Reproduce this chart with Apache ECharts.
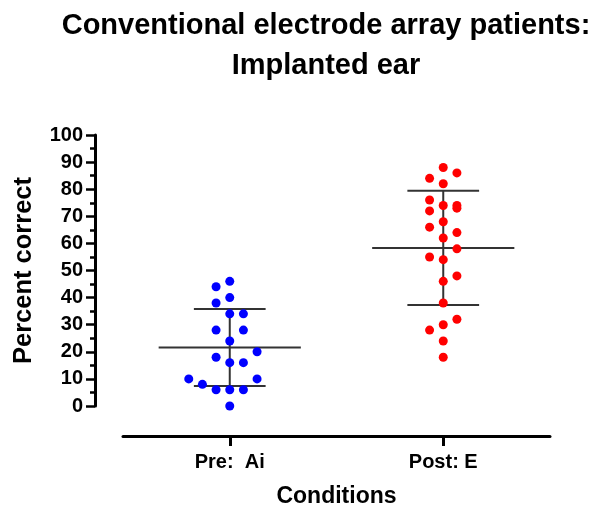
<!DOCTYPE html>
<html>
<head>
<meta charset="utf-8">
<script src="https://cdn.jsdelivr.net/npm/echarts@6/dist/echarts.min.js"></script>
<style>html,body{margin:0;padding:0;background:#fff;}#c{width:602px;height:515px;}</style>
</head>
<body>
<div id="c"></div>
<script>
// ---- data ----
var categories = ['Pre:  Ai', 'Post: E'];
var yTicks = [0,10,20,30,40,50,60,70,80,90,100];
// Pre: Ai values and their scatter column slot (jitter column index)
var preValues = [46, 44, 40, 38, 34, 34, 28, 28, 24, 20, 18, 16, 16, 10, 10, 8, 6, 6, 6, 0];
var preSlots  = [0, -1, 0, -1, 0, 1, -1, 1, 0, 2, -1, 0, 1, -3, 2, -2, -1, 0, 1, 0];
// Post: E values and their scatter column slot
var postValues = [88, 84, 86, 82, 76, 74, 74, 73, 72, 68, 66, 64, 62, 58, 55, 54, 48, 46, 38, 32, 30, 28, 24, 18];
var postSlots  = [0, -1, 1, 0, -1, 0, 1, 1, -1, 0, -1, 1, 0, 1, -1, 0, 1, 0, 0, 1, 0, -1, 0, 0];

function stats(a){
  var n=a.length, m=a.reduce(function(s,v){return s+v;},0)/n;
  var v=a.reduce(function(s,x){return s+(x-m)*(x-m);},0)/(n-1);
  return {mean:m, sd:Math.sqrt(v)};
}
var SLOT = 0.064;
function pts(vals, slots, center){
  return vals.map(function(v,i){ return [center + slots[i]*SLOT, v]; });
}
var sPre = stats(preValues), sPost = stats(postValues);
var summary = [[1, sPre.mean, sPre.sd],[2, sPost.mean, sPost.sd]];

var chart = echarts.init(document.getElementById('c'), null, {renderer:'canvas'});
var FONT = "'Liberation Sans', Arial, sans-serif";
chart.setOption({
  backgroundColor:'#fff',
  animation:false,
  title:{
    text:'Conventional electrode array patients:\nImplanted ear',
    left:321, top:1, textAlign:'center',
    textStyle:{fontFamily:FONT, fontWeight:'bold', fontSize:29, color:'#000', lineHeight:40}
  },
  grid:{left:123, right:52, top:135, bottom:109, containLabel:false},
  xAxis:[{
    type:'category', data:categories, position:'bottom', offset:30,
    axisLine:{show:true, onZero:false, lineStyle:{color:'#000', width:3}},
    axisTick:{show:true, alignWithLabel:true, length:10, lineStyle:{color:'#000', width:3}},
    axisLabel:{fontFamily:FONT, fontWeight:'bold', fontSize:20, color:'#000', margin:16},
    splitLine:{show:false},
    name:'Conditions', nameLocation:'middle', nameGap:49,
    nameTextStyle:{fontFamily:FONT, fontWeight:'bold', fontSize:23, color:'#000'}
  },{
    type:'value', min:0.5, max:2.5, show:false, position:'top'
  }],
  yAxis:{
    type:'value', min:0, max:100, interval:10, offset:28,
    axisLine:{show:true, onZero:false, lineStyle:{color:'#000', width:3}},
    axisTick:{show:true, length:9, lineStyle:{color:'#000', width:2.5}},
    minorTick:{show:true, splitNumber:2, length:5, lineStyle:{color:'#000', width:2.5}},
    axisLabel:{fontFamily:FONT, fontWeight:'bold', fontSize:20, color:'#000', margin:12,
      customValues: yTicks},
    splitLine:{show:false},
    name:'Percent correct', nameLocation:'middle', nameGap:58,
    nameTextStyle:{fontFamily:FONT, fontWeight:'bold', fontSize:25.5, color:'#000'}
  },
  series:[
    {
      type:'custom', xAxisIndex:1, yAxisIndex:0, data:summary, z:1,
      renderItem:function(params, api){
        var x=api.value(0), m=api.value(1), sd=api.value(2);
        var st={stroke:'#333', lineWidth:2};
        function seg(x1,y1,x2,y2){
          var a=api.coord([x1,y1]), b=api.coord([x2,y2]);
          return {type:'line', shape:{x1:a[0],y1:a[1],x2:b[0],y2:b[1]}, style:st};
        }
        return {type:'group', children:[
          seg(x-0.333,m,x+0.333,m),
          seg(x,m-sd,x,m+sd),
          seg(x-0.168,m+sd,x+0.168,m+sd),
          seg(x-0.168,m-sd,x+0.168,m-sd)
        ]};
      }
    },
    {type:'scatter', xAxisIndex:1, yAxisIndex:0, data:pts(preValues, preSlots, 1),
     symbolSize:9, itemStyle:{color:'#0000ff', opacity:1}, z:2},
    {type:'scatter', xAxisIndex:1, yAxisIndex:0, data:pts(postValues, postSlots, 2),
     symbolSize:9, itemStyle:{color:'#ff0000', opacity:1}, z:2}
  ]
});
</script>
</body>
</html>
